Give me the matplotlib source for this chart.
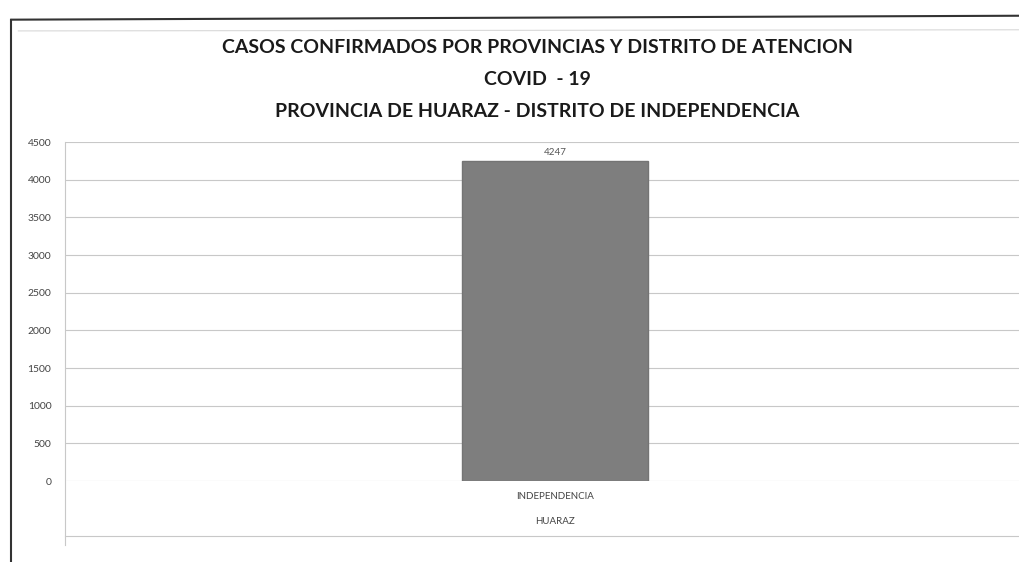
import numpy as np
import matplotlib.pyplot as plt
from matplotlib.lines import Line2D

# data
distritos = ['INDEPENDENCIA']
provincia = 'HUARAZ'
casos = [4247]
yticks = [0, 500, 1000, 1500, 2000, 2500, 3000, 3500, 4000, 4500]

titulo = ['CASOS CONFIRMADOS POR PROVINCIAS Y DISTRITO DE ATENCION',
          'COVID  - 19',
          'PROVINCIA DE HUARAZ - DISTRITO DE INDEPENDENCIA']

plt.rcParams['font.family'] = ['Lato', 'DejaVu Sans']

fig = plt.figure(figsize=(10.2, 5.62), dpi=100)
ax = fig.add_axes([0.064, 0.144, 0.96, 0.603])

x = np.arange(len(distritos))
bars = ax.bar(x, casos, width=0.19, color='#7e7e7e', edgecolor='#747474', zorder=3)
for b, v in zip(bars, casos):
    ax.annotate(str(v), (b.get_x() + b.get_width() / 2, v), textcoords='offset points',
                xytext=(0, 3), ha='center', va='bottom', fontsize=7, color='#555555')

ax.set_xlim(-0.5, 0.5)
ax.set_ylim(0, 4500)
ax.set_yticks(yticks)
ax.set_yticklabels([str(t) for t in yticks], fontsize=7.5, color='#444444')
ax.tick_params(axis='y', length=0, pad=10)
ax.set_xticks([])
ax.grid(axis='y', color='#c8c8c8', linewidth=0.8, zorder=0)
for s in ax.spines.values():
    s.set_visible(False)

# category labels below the plot
ax.text(x[0], -0.045, distritos[0], transform=ax.get_xaxis_transform(),
        ha='center', va='center', fontsize=7, color='#444444')
ax.text(x[0], -0.118, provincia, transform=ax.get_xaxis_transform(),
        ha='center', va='center', fontsize=7, color='#444444')

# title
for i, t in enumerate(titulo):
    fig.text(0.527, 0.915 - i * 0.057, t, ha='center', va='center',
             fontsize=14, fontweight='bold', color='#1a1a1a')

# frame lines
fig.add_artist(Line2D([0.064, 0.064], [0.03, 0.747], color='#c8c8c8', lw=0.8))
fig.add_artist(Line2D([0.064, 1.0], [0.047, 0.047], color='#c8c8c8', lw=0.8))
fig.add_artist(Line2D([0.011, 0.011], [0.0, 0.965], color='#333333', lw=1.5))
fig.add_artist(Line2D([0.011, 1.0], [0.965, 0.972], color='#333333', lw=1.5))
fig.add_artist(Line2D([0.018, 1.0], [0.945, 0.947], color='#d8d8d8', lw=0.8))

plt.savefig('out.png', dpi=100)
